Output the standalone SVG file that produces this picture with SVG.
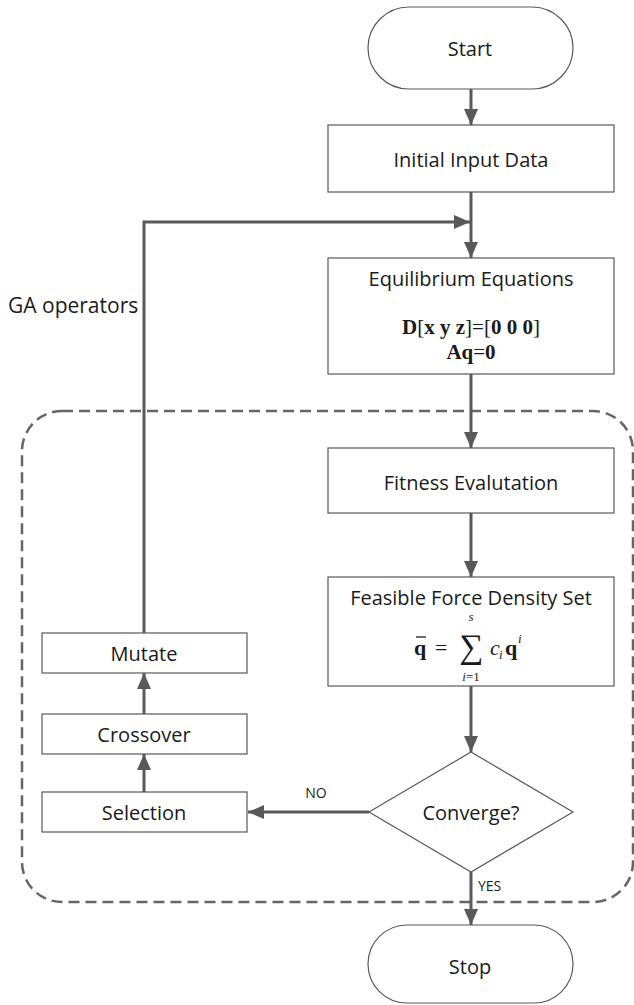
<svg xmlns="http://www.w3.org/2000/svg" width="634" height="1005" viewBox="0 0 634 1005">
<defs>
<marker id="ah" viewBox="0 0 16 14" refX="16" refY="7" markerWidth="16" markerHeight="14" orient="auto" markerUnits="userSpaceOnUse">
<path d="M0,0 L16,7 L0,14 z" fill="#595959"/>
</marker>
<style>
.box{fill:#fff;stroke:#595959;stroke-width:1.2}
.lbl{font-family:"Open Sans","Noto Sans",sans-serif;font-size:20px;fill:#1a1a1a;text-anchor:middle;dominant-baseline:central}
.small{font-family:"Open Sans","Noto Sans",sans-serif;font-size:14px;fill:#1a1a1a}
.eq{font-family:"Liberation Serif",serif;font-size:21px;fill:#1a1a1a;text-anchor:middle;dominant-baseline:central}
.math{font-family:"Liberation Serif",serif;fill:#1a1a1a}
.conn{fill:none;stroke:#595959;stroke-width:3}
</style>
</defs>
<rect width="634" height="1005" fill="#fff"/>

<g id="ga-region">
<rect x="22" y="411" width="611" height="491" rx="40" fill="none" stroke="#666" stroke-width="2.5" stroke-dasharray="11 6"/>
<text class="small" x="8" y="305" style="font-size:21px" dominant-baseline="central">GA operators</text>
</g>

<g id="connectors">
<line class="conn" x1="471" y1="89" x2="471" y2="125" marker-end="url(#ah)"/>
<line class="conn" x1="471" y1="192" x2="471" y2="258" marker-end="url(#ah)"/>
<polyline class="conn" points="144,633 144,222 470,222" marker-end="url(#ah)"/>
<line class="conn" x1="471" y1="374" x2="471" y2="448" marker-end="url(#ah)"/>
<line class="conn" x1="471" y1="513" x2="471" y2="577" marker-end="url(#ah)"/>
<line class="conn" x1="471" y1="686" x2="471" y2="752" marker-end="url(#ah)"/>
<line class="conn" x1="369" y1="812" x2="248" y2="812" marker-end="url(#ah)"/>
<line class="conn" x1="144" y1="792" x2="144" y2="754" marker-end="url(#ah)"/>
<line class="conn" x1="144" y1="714" x2="144" y2="673" marker-end="url(#ah)"/>
<line class="conn" x1="471" y1="872" x2="471" y2="925" marker-end="url(#ah)"/>
<text class="small" x="316" y="792" text-anchor="middle" dominant-baseline="central">NO</text>
<text class="small" x="478" y="885" dominant-baseline="central">YES</text>
</g>

<g id="start">
<rect class="box" x="368" y="7" width="205" height="82" rx="41"/>
<text class="lbl" x="470" y="48">Start</text>
</g>

<g id="initial-input">
<rect class="box" x="328" y="125" width="286" height="67"/>
<text class="lbl" x="471" y="159">Initial Input Data</text>
</g>

<g id="equilibrium">
<rect class="box" x="328" y="258" width="286" height="116"/>
<text class="lbl" x="471" y="278">Equilibrium Equations</text>
<text class="eq" x="471" y="327"><tspan font-weight="bold">D</tspan>[<tspan font-weight="bold">x y z</tspan>]=[<tspan font-weight="bold">0 0 0</tspan>]</text>
<text class="eq" x="471" y="352"><tspan font-weight="bold">Aq</tspan>=<tspan font-weight="bold">0</tspan></text>
</g>

<g id="fitness">
<rect class="box" x="328" y="448" width="286" height="65"/>
<text class="lbl" x="471" y="482">Fitness Evalutation</text>
</g>

<g id="feasible">
<rect class="box" x="328" y="577" width="286" height="109"/>
<text class="lbl" x="471" y="597">Feasible Force Density Set</text>
<text class="math" x="414" y="655" font-size="22" font-weight="bold">q</text>
<line x1="416" y1="637" x2="426" y2="637" stroke="#1a1a1a" stroke-width="1.3"/>
<text class="math" x="435" y="655" font-size="22">=</text>
<text class="math" x="471" y="658" font-size="34" text-anchor="middle">∑</text>
<text class="math" x="471" y="621" font-size="13" font-style="italic" text-anchor="middle">s</text>
<text class="math" x="471" y="681" font-size="13" text-anchor="middle"><tspan font-style="italic">i</tspan>=1</text>
<text class="math" x="490" y="655" font-size="22" font-style="italic">c</text>
<text class="math" x="499" y="659" font-size="13" font-style="italic">i</text>
<text class="math" x="505" y="655" font-size="22" font-weight="bold">q</text>
<text class="math" x="518" y="643" font-size="13" font-style="italic">i</text>
</g>

<g id="converge">
<polygon class="box" points="471,752 573,812 471,872 369,812"/>
<text class="lbl" x="471" y="812">Converge?</text>
</g>

<g id="stop">
<rect class="box" x="368" y="925" width="205" height="78" rx="39"/>
<text class="lbl" x="470" y="966">Stop</text>
</g>

<g id="mutate">
<rect class="box" x="42" y="633" width="205" height="40"/>
<text class="lbl" x="144" y="653">Mutate</text>
</g>

<g id="crossover">
<rect class="box" x="42" y="714" width="205" height="40"/>
<text class="lbl" x="144" y="734">Crossover</text>
</g>

<g id="selection">
<rect class="box" x="42" y="792" width="205" height="40"/>
<text class="lbl" x="144" y="812">Selection</text>
</g>
</svg>
